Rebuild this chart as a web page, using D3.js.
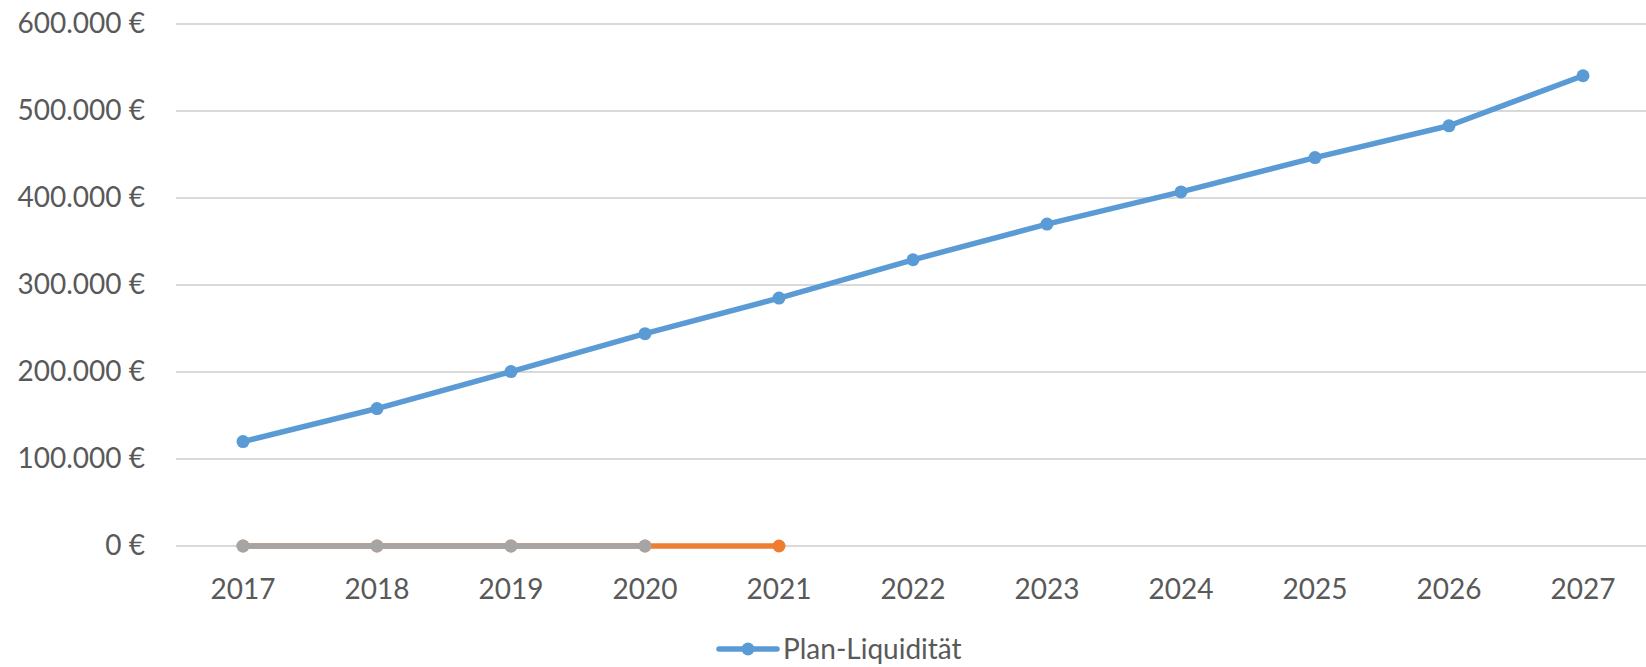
<!DOCTYPE html>
<html>
<head>
<meta charset="utf-8">
<script src="https://cdn.jsdelivr.net/npm/d3@7"></script>
<style>
    body { margin: 0; background: #fff; }
    text { font-family: Lato, "Open Sans", sans-serif; fill: #595959; }
</style>
</head>
<body>
<script>
// Data
var years = ["2017", "2018", "2019", "2020", "2021", "2022", "2023", "2024", "2025", "2026", "2027"];
var planLiquiditaet = [120000, 158000, 200500, 244000, 285000, 329000, 370000, 407000, 446500, 483000, 540500];
var istYears = ["2017", "2018", "2019", "2020", "2021"];
var istValues = [0, 0, 0, 0, 0];
var vorjahrYears = ["2017", "2018", "2019", "2020"];
var vorjahrValues = [0, 0, 0, 0];
var yTicks = [0, 100000, 200000, 300000, 400000, 500000, 600000];

// Width and height
var w = 1646;
var h = 667;
var margin = { left: 176, right: 0, top: 24, bottom: 121 };

var svg = d3.select("body")
    .append("svg")
    .attr("width", w)
    .attr("height", h);

// categories run a bit past the right edge, like the original
var x = d3.scaleBand()
    .domain(years)
    .range([margin.left, margin.left + 134 * years.length]);

var y = d3.scaleLinear()
    .domain([0, 600000])
    .range([h - margin.bottom, margin.top]);

// gridlines
svg.append("g")
    .selectAll("line")
    .data(yTicks)
    .enter()
    .append("line")
    .attr("x1", margin.left)
    .attr("x2", w - margin.right)
    .attr("y1", function(d) { return y(d); })
    .attr("y2", function(d) { return y(d); })
    .attr("stroke", "#d9d9d9")
    .attr("stroke-width", 2);

// y axis labels
var fmt = function(d) {
    return d3.format(",")(d).replace(/,/g, ".") + " €";
};
var yAxis = svg.append("g")
    .attr("transform", "translate(145,0)")
    .call(d3.axisLeft(y).tickValues(yTicks).tickFormat(fmt).tickSize(0).tickPadding(0));
yAxis.select(".domain").remove();
yAxis.selectAll("text")
    .attr("font-size", 28)
    .attr("font-family", "Lato, sans-serif")
    .attr("fill", "#595959");

// x axis labels
var xAxis = svg.append("g")
    .attr("transform", "translate(0," + (h - margin.bottom) + ")")
    .call(d3.axisBottom(x).tickSize(0).tickPadding(33));
xAxis.select(".domain").remove();
xAxis.selectAll("text")
    .attr("font-size", 28)
    .attr("font-family", "Lato, sans-serif")
    .attr("fill", "#595959");

function cx(d) { return x(d) + x.bandwidth() / 2; }

function drawSeries(cats, vals, color) {
    var pts = cats.map(function(c, i) { return [c, vals[i]]; });
    var line = d3.line()
        .x(function(d) { return cx(d[0]); })
        .y(function(d) { return y(d[1]); });
    svg.append("path")
        .datum(pts)
        .attr("d", line)
        .attr("fill", "none")
        .attr("stroke", color)
        .attr("stroke-width", 5.5)
        .attr("stroke-linejoin", "round");
    svg.append("g")
        .selectAll("circle")
        .data(pts)
        .enter()
        .append("circle")
        .attr("cx", function(d) { return cx(d[0]); })
        .attr("cy", function(d) { return y(d[1]); })
        .attr("r", 6.5)
        .attr("fill", color);
}

drawSeries(istYears, istValues, "#ed7d31");
drawSeries(vorjahrYears, vorjahrValues, "#a5a5a5");
drawSeries(years, planLiquiditaet, "#5b9bd5");

// legend
var legend = svg.append("g").attr("transform", "translate(719,649)");
legend.append("line")
    .attr("x1", 0).attr("x2", 58)
    .attr("stroke", "#5b9bd5")
    .attr("stroke-width", 5.5)
    .attr("stroke-linecap", "round");
legend.append("circle")
    .attr("cx", 29).attr("r", 6.5)
    .attr("fill", "#5b9bd5");
legend.append("text")
    .attr("x", 64)
    .attr("dy", "0.35em")
    .attr("font-size", 28)
    .text("Plan-Liquidität");
</script>
</body>
</html>
